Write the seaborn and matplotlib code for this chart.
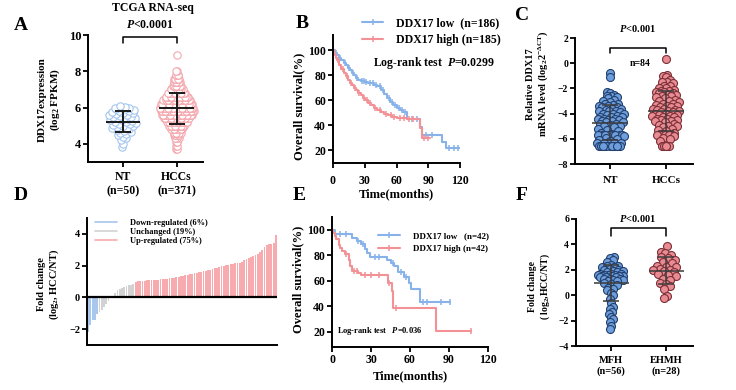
import numpy as np
import matplotlib
matplotlib.use("Agg")
import matplotlib.pyplot as plt
from matplotlib.lines import Line2D
import seaborn as sns

W, H = 736, 390

# ---- A: TCGA RNA-seq, DDX17 expression (log2 FPKM)
a_nt = [3.8, 4.0, 4.2, 4.3, 4.4, 4.5, 4.55, 4.6, 4.65, 4.7,
        4.75, 4.8, 4.85, 4.9, 4.9, 4.95, 5.0, 5.0, 5.05, 5.1,
        5.1, 5.15, 5.2, 5.2, 5.25, 5.3, 5.3, 5.35, 5.4, 5.4,
        5.45, 5.5, 5.5, 5.55, 5.6, 5.6, 5.65, 5.7, 5.7, 5.75,
        5.8, 5.8, 5.85, 5.9, 5.9, 5.95, 6.0, 6.0, 6.05, 6.1]
a_hcc_levels = [3.7, 3.9, 4.1, 4.3, 4.5, 4.6, 4.8, 5.0, 5.2, 5.4, 5.6, 5.8,
                6.0, 6.2, 6.4, 6.6, 6.8, 7.0, 7.2, 7.4, 7.6, 7.8, 8.0, 8.9]
a_hcc_counts = [2, 2, 3, 4, 6, 9, 12, 17, 22, 28, 34, 39,
                38, 34, 30, 25, 18, 14, 11, 8, 7, 5, 2, 1]
a_labels = ["NT\n(n=50)", "HCCs\n(n=371)"]

# ---- B: TCGA overall survival
b_low_t = [0, 2, 4, 6, 8, 10, 12, 14, 16, 18, 20, 22, 24, 26, 28, 30, 33, 36, 39, 42,
           45, 48, 51, 54, 57, 60, 63, 66, 70, 82, 84, 103, 107]
b_low_s = [100, 98, 96, 94, 92, 90, 88, 86, 84, 82, 80, 78, 76.5, 75.5, 75, 74.5, 74, 73.5, 72.5, 71,
           68, 65, 62, 59, 56, 54, 52.5, 51, 45, 39, 32, 27, 22]
b_low_end = 120
b_low_cens = [3, 7, 11, 15, 19, 23, 27, 29, 31, 35, 38, 41, 44, 47, 53, 56, 59, 62, 65, 68,
              75, 79, 88, 94, 110, 114, 118]
b_high_t = [0, 1, 2, 3, 4, 6, 8, 10, 12, 14, 16, 18, 20, 22, 24, 26, 28, 30, 33, 36,
            39, 42, 45, 48, 52, 56, 60, 65, 70, 82, 84]
b_high_s = [100, 98, 96, 94, 92, 88, 85, 82, 79, 76, 74, 72, 70, 68, 66, 64, 62, 60, 58, 56,
            54, 52, 50.5, 49, 48, 47, 46, 45.5, 45, 38, 30]
b_high_end = 92
b_high_cens = [5, 9, 13, 17, 21, 25, 29, 32, 35, 40, 44, 50, 55, 58, 63, 67, 72, 76, 86, 90]

# ---- C: qPCR relative DDX17 mRNA (n=84 pairs)
c_nt = ([-0.75, -1.1,
         -2.3, -2.4, -2.5, -2.6, -2.6, -2.7, -2.8, -2.9, -3.0,
         -3.1, -3.2, -3.2, -3.3, -3.4, -3.4, -3.5, -3.5, -3.6, -3.6, -3.7, -3.8, -3.8, -3.8, -3.9,
         -4.0, -4.0, -4.0, -4.1, -4.2, -4.3, -4.3, -4.3, -4.4, -4.4, -4.4, -4.5, -4.5, -4.6, -4.6,
         -4.7, -4.7, -4.8, -4.8, -4.9,
         -5.0, -5.0, -5.1, -5.2, -5.3, -5.4, -5.5, -5.6]
        + [-5.7] * 8 + [-5.8, -5.9, -6.0, -6.1, -6.2] + [-6.3] * 5 + [-6.6] * 12)
c_hcc = ([0.3, -0.9, -1.0, -1.1, -1.3, -1.5, -1.5, -1.6, -1.8, -1.8,
          -2.0, -2.0, -2.1, -2.2, -2.2, -2.3, -2.3, -2.4, -2.4, -2.5,
          -2.5, -2.6, -2.6, -2.7, -2.8, -2.9, -3.0, -3.0, -3.1, -3.2,
          -3.2, -3.3, -3.4, -3.4, -3.5, -3.5, -3.6, -3.6, -3.7, -3.7,
          -3.8, -3.8, -3.9, -3.9, -4.0, -4.0, -4.1, -4.1, -4.2, -4.2,
          -4.3, -4.3, -4.4, -4.4, -4.5, -4.5, -4.6, -4.6, -4.7, -4.8,
          -4.9, -5.0, -5.0, -5.1, -5.2, -5.3, -5.4, -5.5, -5.6]
         + [-5.7] * 6 + [-5.8, -5.9, -6.0, -6.2] + [-6.6] * 5)
c_labels = ["NT", "HCCs"]

# ---- D: per-patient fold change, sorted
d_down = [-2.2, -1.75, -1.45, -1.4, -1.05]
d_unchanged = [-0.95, -0.8, -0.6, -0.4, -0.2, -0.05, 0.1, 0.3, 0.45, 0.55, 0.6, 0.65, 0.7, 0.75, 0.8, 0.85]
d_up = [1.00, 1.02, 1.04, 1.05, 1.06, 1.07, 1.08, 1.09, 1.10, 1.11, 1.12, 1.13, 1.14, 1.16, 1.18, 1.20,
        1.22, 1.25, 1.28, 1.30, 1.33, 1.36, 1.39, 1.42, 1.45, 1.48, 1.51, 1.54, 1.57, 1.60, 1.63, 1.66,
        1.70, 1.74, 1.78, 1.82, 1.86, 1.90, 1.95, 2.00, 2.03, 2.06, 2.09, 2.12, 2.14, 2.16, 2.18, 2.20,
        2.35, 2.42, 2.48, 2.54, 2.60, 2.66, 2.72, 2.85, 3.00, 3.15, 3.28, 3.35, 3.38, 3.40, 3.92]
d_names = ["Down-regulated (6%)", "Unchanged (19%)", "Up-regulated (75%)"]

# ---- E: cohort overall survival
e_low_t = [0, 2, 15, 19, 22, 25, 27, 29, 42, 45, 48, 51, 55, 59, 61, 68]
e_low_s = [100, 96.4, 93.9, 91.5, 88.6, 84.8, 81.5, 78.6, 76.2, 73.8, 71.4, 66.7, 63.0, 58.4, 53.6, 43.4]
e_low_end = 91
e_low_cens = [6, 11, 20, 24, 33, 36, 47, 53, 57, 70, 73, 84, 91]
e_high_t = [0, 1, 2, 3, 5, 6, 8, 10, 13, 14, 15, 20, 22, 43, 46, 47, 80]
e_high_s = [100, 97.6, 95.2, 92.9, 88.1, 85.7, 83.3, 81.0, 76.2, 71.4, 67.6, 66.2, 64.8, 58.3, 51.8, 38.7, 20.5]
e_high_end = 107
e_high_cens = [11, 17, 19, 25, 30, 36, 44, 49, 107]

# ---- F: fold change by group
f_mfh = [3.0, 2.9, 2.8, 2.6, 2.4, 2.3, 2.3, 2.2, 2.2, 2.1,
         2.0, 2.0, 1.9, 1.9, 1.8, 1.8, 1.7, 1.7, 1.7, 1.6,
         1.6, 1.6, 1.6, 1.5, 1.5, 1.5, 1.5, 1.4, 1.4, 1.4,
         1.3, 1.3, 1.3, 1.2, 1.2, 1.1, 1.1, 1.0, 0.9, 0.8,
         0.6, 0.5, 0.4, 0.2, 0.0,
         -0.3, -0.6, -0.9, -1.1, -1.3, -1.5, -1.7, -1.9, -2.1, -2.4, -2.65]
f_ehmh = [3.9, 3.4, 3.3, 3.2, 3.0, 2.9, 2.8, 2.6, 2.5, 2.3, 2.2, 2.2, 2.1, 2.0,
          2.0, 1.9, 1.8, 1.7, 1.6, 1.5, 1.3, 1.2, 1.0, 0.9, 0.7, 0.5, -0.1, -0.2]
f_labels = ["MFH\n(n=56)", "EHMH\n(n=28)"]

BLUE = "#88b3ea"
RED = "#f29196"
RING_BLUE = "#a3c5ee"
RING_RED = "#f4a9b0"
FILL_BLUE, EDGE_BLUE = "#6e9edc", "#22406e"
FILL_RED, EDGE_RED = "#e98b92", "#7c3037"
BAR_COLORS = {"down": "#a9c6ec", "same": "#d2d2d2", "up": "#f7abae"}

sns.set_theme(style="ticks")
plt.rcParams.update({
    "font.family": ["Liberation Serif", "DejaVu Serif"],
    "font.weight": "bold",
    "axes.labelweight": "bold",
    "text.color": "black",
    "axes.edgecolor": "black",
    "axes.linewidth": 1.4,
    "xtick.color": "black", "ytick.color": "black",
    "xtick.major.width": 1.3, "ytick.major.width": 1.3,
    "xtick.major.size": 3.5, "ytick.major.size": 3.5,
    "ytick.major.pad": 1.5,
    "mathtext.fontset": "custom",
    "mathtext.rm": "Liberation Serif:bold",
    "mathtext.it": "Liberation Serif:italic:bold",
    "mathtext.bf": "Liberation Serif:bold",
})

fig = plt.figure(figsize=(W / 100, H / 100), dpi=100)


def box(l, t, r, b):
    return [l / W, 1 - b / H, (r - l) / W, (b - t) / H]


def put(x, y, s, **kw):
    kw.setdefault("ha", "center")
    kw.setdefault("va", "center")
    fig.text(x / W, 1 - y / H, s, **kw)


def spread(vals, half):
    # sina-style horizontal offsets: width follows the local density
    v = np.asarray(vals, float)
    bw = 0.4 * v.std()
    dens = np.exp(-0.5 * ((v[:, None] - v[None, :]) / bw) ** 2).sum(axis=1)
    dens = dens / dens.max()
    rank = np.argsort(np.argsort(v, kind="stable"), kind="stable")
    u = ((rank * 0.6180339887) % 1.0) * 2 - 1
    return half * dens ** 1.2 * u


def dots(ax, i, vals, half, size, fc, ec, lw):
    v = np.asarray(vals, float)
    sns.scatterplot(x=i + spread(v, half), y=v, ax=ax, s=size, color=ec,
                    facecolor=fc, edgecolor=ec, linewidth=lw, legend=False, zorder=2)


def mean_sd(ax, i, vals, half, color, lw, cap=5.5):
    m, sd = np.mean(vals), np.std(vals, ddof=1)
    ax.hlines(m, i - half, i + half, color=color, lw=lw, zorder=4)
    ax.errorbar(i, m, yerr=sd, color=color, lw=lw, capsize=cap, capthick=lw, zorder=4)


def bracket(ax, low, high):
    ax.plot([0, 0, 1, 1], [low, high, high, low], color="black", lw=1.1, clip_on=False)


def km(ax, t, s, end, cens, color):
    sns.lineplot(x=list(t) + [end], y=list(s) + [s[-1]], ax=ax, color=color, lw=1.5,
                 drawstyle="steps-post", estimator=None, sort=False)
    idx = np.searchsorted(t, cens, side="right") - 1
    ax.plot(cens, np.asarray(s)[idx], ls="none", marker="|", ms=5, mew=1.1, color=color)


def km_handle(color):
    return Line2D([], [], color=color, lw=1.5, marker="|", ms=5, mew=1.1)


# ---------------- A ----------------
axA = fig.add_axes(box(88, 35, 203, 162))
a_hcc = np.repeat(a_hcc_levels, a_hcc_counts)
dots(axA, 0, a_nt, 0.27, 28, "white", RING_BLUE, 0.8)
dots(axA, 1, a_hcc, 0.32, 28, "white", RING_RED, 0.8)
mean_sd(axA, 0, a_nt, 0.32, "#1a1a1a", 1.4)
mean_sd(axA, 1, a_hcc, 0.32, "#1a1a1a", 1.4)
axA.set_xlim(-0.65, 1.49)
axA.set_ylim(3, 10)
axA.set_yticks([4, 6, 8, 10])
axA.set_xticks([0, 1], a_labels)
axA.tick_params(axis="y", labelsize=9)
axA.tick_params(axis="x", labelsize=8.5, pad=3)
bracket(axA, 9.55, 9.9)
sns.despine(ax=axA)
put(153, 8, "TCGA RNA-seq", fontsize=8.5)
put(150, 25, r"$P$<0.0001", fontsize=8.5)
put(50, 100, "DDX17expression\n(log$_2$ FPKM)", rotation=90, fontsize=8)
put(21, 26, "A", fontsize=14)

# ---------------- B ----------------
axB = fig.add_axes(box(333, 35, 460, 163))
km(axB, b_low_t, b_low_s, b_low_end, b_low_cens, BLUE)
km(axB, b_high_t, b_high_s, b_high_end, b_high_cens, RED)
axB.set_xlim(0, 120)
axB.set_ylim(10, 112)
axB.set_xticks([0, 30, 60, 90, 120])
axB.set_yticks([20, 40, 60, 80, 100])
axB.set(xlabel="", ylabel="")
axB.tick_params(labelsize=8.5)
axB.tick_params(axis="x", pad=5)
sns.despine(ax=axB)
axB.legend([km_handle(BLUE), km_handle(RED)], ["DDX17 low  (n=186)", "DDX17 high (n=185)"],
           loc="upper left", bbox_to_anchor=(362 / W, 1 - 17 / H), bbox_transform=fig.transFigure,
           frameon=False, fontsize=8.5, handlelength=1.8, handletextpad=1.1,
           labelspacing=0.45, borderpad=0, borderaxespad=0)
put(373, 63, r"Log-rank test  $P$=0.0299", ha="left", fontsize=8.5)
put(396, 194, "Time(months)", fontsize=9)
put(299, 106, "Overall survival(%)", rotation=90, fontsize=9)
put(302, 24, "B", fontsize=14)

# ---------------- C ----------------
axC = fig.add_axes(box(575, 38, 693, 164))
dots(axC, 0, c_nt, 0.26, 33, FILL_BLUE, EDGE_BLUE, 0.8)
dots(axC, 1, c_hcc, 0.26, 33, FILL_RED, EDGE_RED, 0.8)
mean_sd(axC, 0, c_nt, 0.32, "#3c3c3c", 1.1)
mean_sd(axC, 1, c_hcc, 0.32, "#3c3c3c", 1.1)
axC.set_xlim(-0.63, 1.48)
axC.set_ylim(-8, 2)
axC.set_yticks([-8, -6, -4, -2, 0, 2])
axC.set_xticks([0, 1], c_labels)
axC.tick_params(axis="y", labelsize=7)
axC.tick_params(axis="x", labelsize=8, pad=5)
bracket(axC, 0.8, 1.2)
sns.despine(ax=axC)
put(638, 28, r"$P$<0.001", fontsize=7.5)
put(640, 64, "n=84", fontsize=7)
put(538, 84, "Relative DDX17\nmRNA level (log$_2$2$^{-\\Delta\\mathrm{CT}}$)", rotation=90, fontsize=7.5)
put(522, 15, "C", fontsize=14)

# ---------------- D ----------------
axD = fig.add_axes(box(87, 218, 277, 345))
d_vals = d_down + d_unchanged + d_up
d_groups = ["down"] * len(d_down) + ["same"] * len(d_unchanged) + ["up"] * len(d_up)
sns.barplot(x=np.arange(len(d_vals)), y=d_vals, hue=d_groups, palette=BAR_COLORS, dodge=False,
            width=0.8, saturation=1, legend=False, linewidth=0, edgecolor="none", ax=axD)
axD.axhline(0, color="black", lw=1.6, zorder=5)
axD.set_ylim(-3, 5)
axD.set_yticks([-2, 0, 2, 4])
axD.set_xticks([])
axD.set(xlabel="", ylabel="")
axD.tick_params(axis="y", labelsize=7.5)
sns.despine(ax=axD)
axD.legend([Line2D([], [], color=BAR_COLORS[k], lw=1.2) for k in ["down", "same", "up"]], d_names,
           loc="upper left", bbox_to_anchor=(95 / W, 1 - 219 / H), bbox_transform=fig.transFigure,
           frameon=False, fontsize=6, handlelength=2.65, handletextpad=1.5,
           labelspacing=0.1, borderpad=0, borderaxespad=0)
put(49, 284, "Fold change\n(log$_2$, HCC/NT)", rotation=90, fontsize=7.5)
put(21, 195, "D", fontsize=14)

# ---------------- E ----------------
axE = fig.add_axes(box(332, 217, 488, 347))
km(axE, e_low_t, e_low_s, e_low_end, e_low_cens, BLUE)
km(axE, e_high_t, e_high_s, e_high_end, e_high_cens, RED)
axE.set_xlim(0, 120)
axE.set_ylim(8, 110)
axE.set_xticks([0, 30, 60, 90, 120])
axE.set_yticks([20, 40, 60, 80, 100])
axE.set(xlabel="", ylabel="")
axE.tick_params(labelsize=8.5)
axE.tick_params(axis="x", pad=1.5)
sns.despine(ax=axE)
axE.legend([km_handle(BLUE), km_handle(RED)], ["DDX17 low   (n=42)", "DDX17 high (n=42)"],
           loc="upper left", bbox_to_anchor=(378 / W, 1 - 232 / H), bbox_transform=fig.transFigure,
           frameon=False, fontsize=6.5, handlelength=2.4, handletextpad=1.45,
           labelspacing=0.5, borderpad=0, borderaxespad=0)
put(337, 331, r"Log-rank test   $P$=0.036", ha="left", fontsize=6)
put(410, 376, "Time(months)", fontsize=9)
put(298, 279, "Overall survival(%)", rotation=90, fontsize=9)
put(299, 195, "E", fontsize=14)

# ---------------- F ----------------
axF = fig.add_axes(box(576, 219, 693, 346))
dots(axF, 0, f_mfh, 0.25, 33, FILL_BLUE, EDGE_BLUE, 0.8)
dots(axF, 1, f_ehmh, 0.25, 33, FILL_RED, EDGE_RED, 0.8)
mean_sd(axF, 0, f_mfh, 0.32, "#3c3c3c", 1.1)
mean_sd(axF, 1, f_ehmh, 0.32, "#3c3c3c", 1.1)
axF.set_xlim(-0.64, 1.49)
axF.set_ylim(-4, 6)
axF.set_yticks([-4, -2, 0, 2, 4, 6])
axF.set_xticks([0, 1], f_labels)
axF.tick_params(axis="y", labelsize=7)
axF.tick_params(axis="x", labelsize=7.5, pad=4)
bracket(axF, 4.65, 5.3)
sns.despine(ax=axF)
put(638, 219, r"$P$<0.001", fontsize=7.5)
put(540, 287, "Fold change\n( log$_2$,HCC/NT)", rotation=90, fontsize=7)
put(522, 195, "F", fontsize=14)

fig.savefig("out.png", dpi=100)
